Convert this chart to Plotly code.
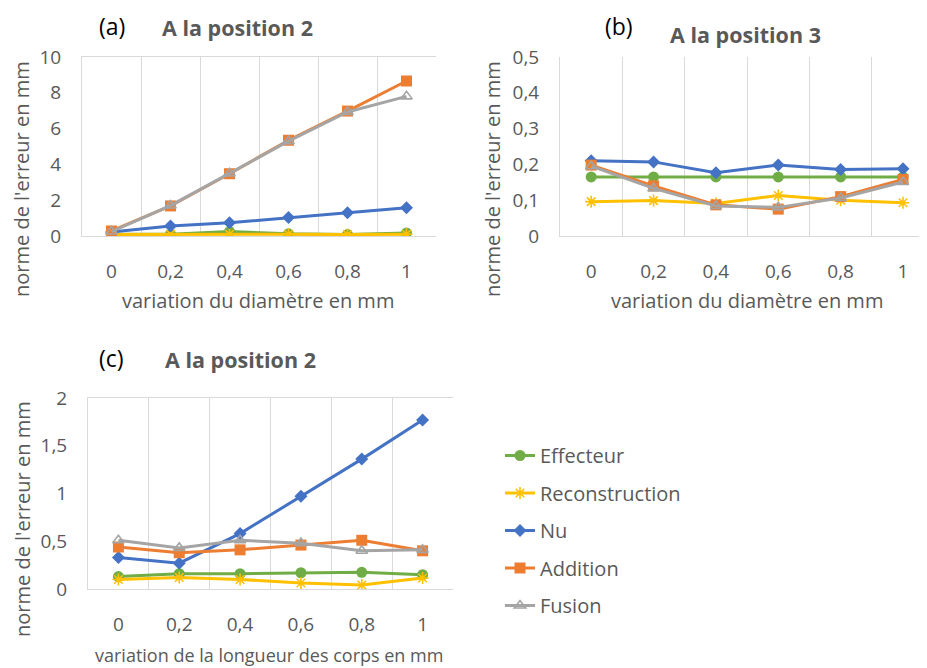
import plotly.graph_objects as go

# page window and the browser's default 8px body margin (top/left offset)
WIN_W, WIN_H = 927, 668
BODY = 8
W, H = WIN_W - BODY, WIN_H - BODY

# ---------------- data ----------------
categories = [0, 0.2, 0.4, 0.6, 0.8, 1]
tick_labels = ["0", "0,2", "0,4", "0,6", "0,8", "1"]
series_names = ["Effecteur", "Reconstruction", "Nu", "Addition", "Fusion"]

# (a) position 2, variation du diamètre
a_effecteur = [0.10, 0.10, 0.25, 0.12, 0.08, 0.17]
a_reconstruction = [0.09, 0.10, 0.10, 0.10, 0.08, 0.10]
a_nu = [0.22, 0.56, 0.74, 1.04, 1.30, 1.58]
a_addition = [0.28, 1.68, 3.48, 5.35, 6.98, 8.66]
a_fusion = [0.25, 1.70, 3.50, 5.30, 6.93, 7.80]

# (b) position 3, variation du diamètre
b_effecteur = [0.165, 0.165, 0.165, 0.165, 0.165, 0.165]
b_reconstruction = [0.096, 0.099, 0.091, 0.113, 0.100, 0.093]
b_nu = [0.210, 0.207, 0.177, 0.198, 0.186, 0.188]
b_addition = [0.198, 0.140, 0.087, 0.075, 0.110, 0.158]
b_fusion = [0.195, 0.133, 0.084, 0.080, 0.106, 0.151]

# (c) position 2, variation de la longueur des corps
c_effecteur = [0.13, 0.16, 0.16, 0.17, 0.175, 0.15]
c_reconstruction = [0.10, 0.12, 0.10, 0.063, 0.042, 0.115]
c_nu = [0.33, 0.27, 0.58, 0.97, 1.36, 1.77]
c_addition = [0.44, 0.38, 0.41, 0.46, 0.51, 0.40]
c_fusion = [0.51, 0.43, 0.51, 0.48, 0.40, 0.41]

# ---------------- styles ----------------
colors = {"Effecteur": "#70AD47", "Reconstruction": "#FFC000", "Nu": "#4472C4",
          "Addition": "#ED7D31", "Fusion": "#A5A5A5"}
symbols = {"Effecteur": "circle", "Reconstruction": "asterisk-open", "Nu": "diamond",
           "Addition": "square", "Fusion": "triangle-up-open"}
msizes = {"Effecteur": 11, "Reconstruction": 10, "Nu": 10, "Addition": 11, "Fusion": 10}

FONT = "Open Sans"
GRAY_TXT = "#595959"
GRID = "#D9D9D9"


def px(x):
    return min(max((x - BODY) / W, 0), 1)


def py(y):
    return min(max(1 - (y - BODY) / H, 0), 1)


fig = go.Figure()

panels = [
    ("x", "y", [a_effecteur, a_reconstruction, a_nu, a_addition, a_fusion], True),
    ("x2", "y2", [b_effecteur, b_reconstruction, b_nu, b_addition, b_fusion], False),
    ("x3", "y3", [c_effecteur, c_reconstruction, c_nu, c_addition, c_fusion], False),
]

for xa, ya, data, show in panels:
    for name, vals in zip(series_names, data):
        col = colors[name]
        opn = "open" in symbols[name]
        mk = dict(symbol=symbols[name], size=msizes[name], color=col,
                  line=dict(color=col, width=1.6 if opn else 0))
        fig.add_trace(go.Scatter(
            x=categories, y=vals, name=name, mode="lines+markers",
            line=dict(color=col, width=3), marker=mk,
            xaxis=xa, yaxis=ya, showlegend=show, legendgroup=name,
        ))

boundaries = [c - 0.1 for c in categories] + [categories[-1] + 0.1]

TICK_FS = 19
xcommon = dict(
    tickmode="array", tickvals=categories, ticktext=tick_labels,
    showgrid=False, zeroline=False, showline=True, linecolor=GRID, linewidth=1,
    ticks="", ticklabelstandoff=18, automargin=False,
    tickfont=dict(family=FONT, size=TICK_FS, color=GRAY_TXT),
    minor=dict(tickvals=boundaries, showgrid=True, gridcolor=GRID, gridwidth=1, ticks=""),
    fixedrange=True,
)
ycommon = dict(
    showgrid=False, zeroline=False, showline=True, linecolor=GRID, linewidth=1,
    ticks="", ticklabelstandoff=16, automargin=False,
    tickfont=dict(family=FONT, size=TICK_FS, color=GRAY_TXT),
    fixedrange=True,
)

# (b) panel runs past the right edge of the picture: axis end value at the window edge
b_left_px, b_step_px = 591, 62.4

fig.update_layout(
    width=W, height=H,
    margin=dict(l=0, r=0, t=0, b=0, autoexpand=False),
    paper_bgcolor="white", plot_bgcolor="white",
    separators=", ",
    font=dict(family=FONT, color=GRAY_TXT),
    xaxis=dict(xcommon, domain=[px(82), px(436)], range=[-0.1, 1.1], anchor="y", mirror=True),
    yaxis=dict(ycommon, domain=[py(236), py(57)], range=[0, 10], dtick=2, anchor="x"),
    xaxis2=dict(xcommon, domain=[px(560), 1.0],
                range=[-0.1, 0.2 * (BODY + W - b_left_px) / b_step_px], anchor="y2"),
    yaxis2=dict(ycommon, domain=[py(236), py(57)], range=[0, 0.5], dtick=0.1, anchor="x2"),
    xaxis3=dict(xcommon, domain=[px(88), px(453)], range=[-0.1, 1.1], anchor="y3", mirror=True),
    yaxis3=dict(ycommon, domain=[py(589), py(398)], range=[0, 2], dtick=0.5, anchor="x3"),
    legend=dict(
        x=px(500), y=py(436), xanchor="left", yanchor="top",
        font=dict(family=FONT, size=20, color=GRAY_TXT),
        tracegroupgap=8.5, itemwidth=30, bgcolor="rgba(0,0,0,0)",
    ),
    showlegend=True,
)


def ann(text, x, y, size=20, color=GRAY_TXT, bold=False, angle=0):
    fig.add_annotation(
        text=f"<b>{text}</b>" if bold else text,
        x=px(x), y=py(y), xref="paper", yref="paper",
        xanchor="center", yanchor="middle", showarrow=False,
        textangle=angle, font=dict(family=FONT, size=size, color=color),
    )


ann("(a)", 112, 26, size=23, color="#000000")
ann("(b)", 619, 26, size=23, color="#000000")
ann("(c)", 111, 358, size=23, color="#000000")

ann("A la position 2", 237, 28, size=21.5, bold=True)
ann("A la position 3", 745, 35, size=21.5, bold=True)
ann("A la position 2", 241, 359, size=21.5, bold=True)

ann("norme de l'erreur en mm", 22, 179, angle=-90)
ann("norme de l'erreur en mm", 493, 179, angle=-90)
ann("norme de l'erreur en mm", 22, 519, angle=-90)

ann("variation du diamètre en mm", 258, 300)
ann("variation du diamètre en mm", 747, 300)
ann("variation de la longueur des corps en mm", 269, 655, size=18)

fig.write_html("out.html")
